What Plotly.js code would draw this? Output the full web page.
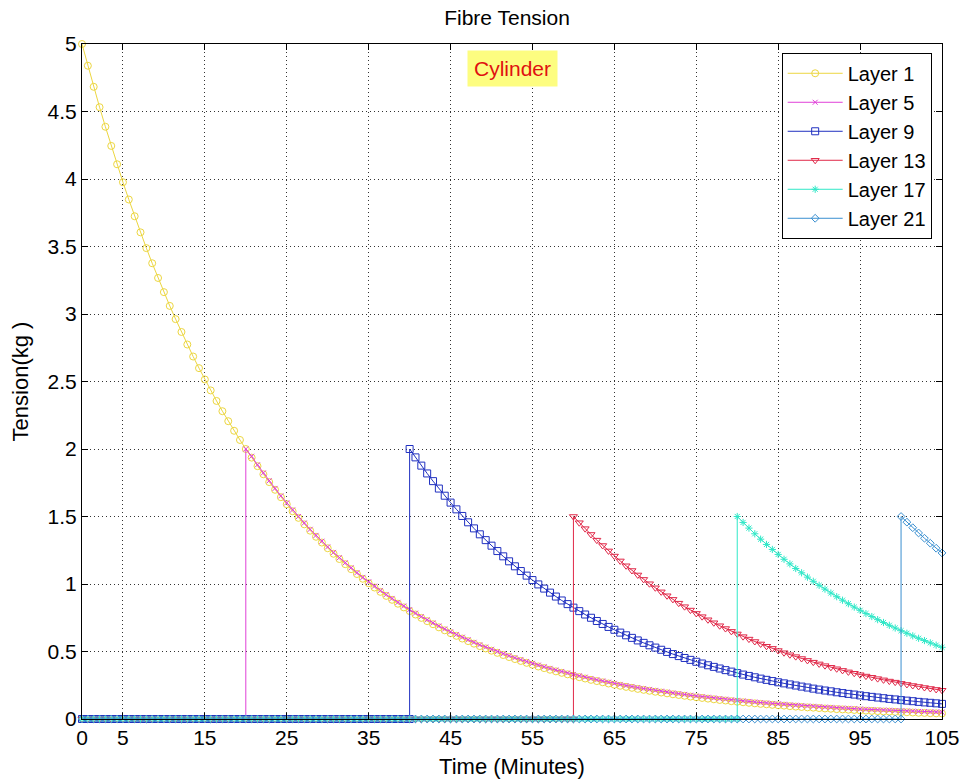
<!DOCTYPE html>
<html>
<head>
<meta charset="utf-8">
<script src="https://cdn.plot.ly/plotly-3.0.1.min.js"></script>
<style>html,body{margin:0;padding:0;background:#fff;}#chart{width:963px;height:784px;}</style>
</head>
<body>
<div id="chart"></div>
<script>
// Time grid (minutes)
const time = [
0,0.714,1.429,2.143,2.857,3.571,4.286,
5,5.714,6.429,7.143,7.857,8.571,9.286,
10,10.714,11.429,12.143,12.857,13.571,14.286,
15,15.714,16.429,17.143,17.857,18.571,19.286,
20,20.714,21.429,22.143,22.857,23.571,24.286,
25,25.714,26.429,27.143,27.857,28.571,29.286,
30,30.714,31.429,32.143,32.857,33.571,34.286,
35,35.714,36.429,37.143,37.857,38.571,39.286,
40,40.714,41.429,42.143,42.857,43.571,44.286,
45,45.714,46.429,47.143,47.857,48.571,49.286,
50,50.714,51.429,52.143,52.857,53.571,54.286,
55,55.714,56.429,57.143,57.857,58.571,59.286,
60,60.714,61.429,62.143,62.857,63.571,64.286,
65,65.714,66.429,67.143,67.857,68.571,69.286,
70,70.714,71.429,72.143,72.857,73.571,74.286,
75,75.714,76.429,77.143,77.857,78.571,79.286,
80,80.714,81.429,82.143,82.857,83.571,84.286,
85,85.714,86.429,87.143,87.857,88.571,89.286,
90,90.714,91.429,92.143,92.857,93.571,94.286,
95,95.714,96.429,97.143,97.857,98.571,99.286,
100,100.714,101.429,102.143,102.857,103.571,104.286,
105];

// Layer 1 tension (kg)
const layer1 = [
5,4.839,4.683,4.532,4.387,4.245,4.109,
3.976,3.848,3.724,3.605,3.488,3.376,3.267,
3.162,3.060,2.962,2.867,2.774,2.685,2.599,
2.515,2.434,2.356,2.280,2.206,2.135,2.067,
2,1.936,1.873,1.813,1.755,1.698,1.643,
1.591,1.539,1.490,1.442,1.395,1.350,1.307,
1.265,1.224,1.185,1.147,1.110,1.074,1.039,
1.006,0.974,0.942,0.912,0.883,0.854,0.827,
0.8,0.774,0.749,0.725,0.702,0.679,0.657,
0.636,0.616,0.596,0.577,0.558,0.540,0.523,
0.506,0.490,0.474,0.459,0.444,0.430,0.416,
0.402,0.389,0.377,0.365,0.353,0.342,0.331,
0.32,0.310,0.300,0.290,0.281,0.272,0.263,
0.254,0.246,0.238,0.231,0.223,0.216,0.209,
0.202,0.196,0.190,0.183,0.178,0.172,0.166,
0.161,0.156,0.151,0.146,0.141,0.137,0.132,
0.128,0.124,0.120,0.116,0.112,0.109,0.105,
0.102,0.099,0.095,0.092,0.089,0.086,0.084,
0.081,0.078,0.076,0.073,0.071,0.069,0.067,
0.064,0.062,0.060,0.058,0.056,0.055,0.053,
0.051,0.050,0.048,0.046,0.045,0.043,0.042,
0.041];

// Layer 5: before wound (0..20 min) and after
const layer5Before = [
0,0,0,0,0,0,0, 0,0,0,0,0,0,0, 0,0,0,0,0,0,0, 0,0,0,0,0,0,0,
0];
const layer5After = [
2,1.946,1.883,1.823,1.765,1.708,1.653,
1.601,1.549,1.500,1.452,1.405,1.360,1.317,
1.275,1.234,1.195,1.157,1.120,1.084,1.049,
1.016,0.984,0.952,0.922,0.893,0.864,0.837,
0.81,0.784,0.759,0.735,0.712,0.689,0.667,
0.646,0.626,0.606,0.587,0.568,0.550,0.533,
0.516,0.500,0.484,0.469,0.454,0.440,0.426,
0.412,0.399,0.387,0.375,0.363,0.352,0.341,
0.33,0.320,0.310,0.300,0.291,0.282,0.273,
0.264,0.256,0.248,0.241,0.233,0.226,0.219,
0.212,0.206,0.200,0.193,0.188,0.182,0.176,
0.171,0.166,0.161,0.156,0.151,0.147,0.142,
0.138,0.134,0.130,0.126,0.122,0.119,0.115,
0.112,0.109,0.105,0.102,0.099,0.096,0.094,
0.091,0.088,0.086,0.083,0.081,0.079,0.077,
0.074,0.072,0.070,0.068,0.066,0.065,0.063,
0.061,0.060,0.058,0.056,0.055,0.053,0.052,
0.051];

// Layer 9
const layer9Before = [
0,0,0,0,0,0,0, 0,0,0,0,0,0,0, 0,0,0,0,0,0,0, 0,0,0,0,0,0,0,
0,0,0,0,0,0,0, 0,0,0,0,0,0,0, 0,0,0,0,0,0,0, 0,0,0,0,0,0,0,
0];
const layer9After = [
2,1.938,1.877,1.819,1.762,1.707,1.654,
1.603,1.553,1.504,1.457,1.412,1.368,1.325,
1.284,1.244,1.205,1.168,1.131,1.096,1.062,
1.029,0.997,0.966,0.936,0.907,0.878,0.851,
0.825,0.799,0.774,0.750,0.726,0.704,0.682,
0.661,0.640,0.620,0.601,0.582,0.564,0.546,
0.529,0.513,0.497,0.481,0.466,0.452,0.438,
0.424,0.411,0.398,0.386,0.374,0.362,0.351,
0.340,0.329,0.319,0.309,0.299,0.290,0.281,
0.272,0.264,0.256,0.248,0.240,0.233,0.225,
0.218,0.211,0.205,0.198,0.192,0.186,0.181,
0.175,0.169,0.164,0.159,0.154,0.149,0.145,
0.140,0.136,0.132,0.127,0.123,0.120,0.116,
0.112];

// Layer 13
const layer13Before = [
0,0,0,0,0,0,0, 0,0,0,0,0,0,0, 0,0,0,0,0,0,0, 0,0,0,0,0,0,0,
0,0,0,0,0,0,0, 0,0,0,0,0,0,0, 0,0,0,0,0,0,0, 0,0,0,0,0,0,0,
0,0,0,0,0,0,0, 0,0,0,0,0,0,0, 0,0,0,0,0,0,0, 0,0,0,0,0,0,0,
0];
const layer13After = [
1.5,1.454,1.410,1.367,1.325,1.285,1.245,
1.207,1.171,1.135,1.100,1.067,1.034,1.002,
0.972,0.942,0.913,0.886,0.858,0.832,0.807,
0.782,0.758,0.735,0.713,0.691,0.670,0.649,
0.630,0.610,0.592,0.574,0.556,0.539,0.523,
0.507,0.491,0.476,0.462,0.448,0.434,0.421,
0.408,0.395,0.383,0.372,0.360,0.349,0.339,
0.328,0.318,0.309,0.299,0.290,0.281,0.273,
0.264,0.256,0.248,0.241,0.233,0.226,0.219,
0.213];

// Layer 17
const layer17Before = [
0,0,0,0,0,0,0, 0,0,0,0,0,0,0, 0,0,0,0,0,0,0, 0,0,0,0,0,0,0,
0,0,0,0,0,0,0, 0,0,0,0,0,0,0, 0,0,0,0,0,0,0, 0,0,0,0,0,0,0,
0,0,0,0,0,0,0, 0,0,0,0,0,0,0, 0,0,0,0,0,0,0, 0,0,0,0,0,0,0,
0,0,0,0,0,0,0, 0,0,0,0,0,0,0, 0,0,0,0,0,0,0, 0,0,0,0,0,0,0,
0];
const layer17After = [
1.5,1.456,1.414,1.372,1.332,1.293,1.256,
1.219,1.183,1.149,1.115,1.083,1.051,1.020,
0.990,0.962,0.933,0.906,0.880,0.854,0.829,
0.805,0.781,0.759,0.736,0.715,0.694,0.674,
0.654,0.635,0.616,0.598,0.581,0.564,0.547,
0.531];

// Layer 21
const layer21Before = [
0,0,0,0,0,0,0, 0,0,0,0,0,0,0, 0,0,0,0,0,0,0, 0,0,0,0,0,0,0,
0,0,0,0,0,0,0, 0,0,0,0,0,0,0, 0,0,0,0,0,0,0, 0,0,0,0,0,0,0,
0,0,0,0,0,0,0, 0,0,0,0,0,0,0, 0,0,0,0,0,0,0, 0,0,0,0,0,0,0,
0,0,0,0,0,0,0, 0,0,0,0,0,0,0, 0,0,0,0,0,0,0, 0,0,0,0,0,0,0,
0,0,0,0,0,0,0, 0,0,0,0,0,0,0, 0,0,0,0,0,0,0, 0,0,0,0,0,0,0,
0];
const layer21After = [1.5,1.458,1.417,1.378,1.339,1.302,1.265,1.230];

const layerNames = ['Layer 1','Layer 5','Layer 9','Layer 13','Layer 17','Layer 21'];
const xTicks = [0,5,15,25,35,45,55,65,75,85,95,105];
const yTicks = [0,0.5,1,1.5,2,2.5,3,3.5,4,4.5,5];

function joinX(before) {
  return time.slice(0, before.length).concat(time.slice(before.length - 1));
}

const styles = [
  {color:'#ecd640', symbol:'circle-open', size:7},
  {color:'#e040d8', symbol:'x-thin-open', size:5},
  {color:'#2030c0', symbol:'square-open', size:7},
  {color:'#e02848', symbol:'triangle-down-open', size:7},
  {color:'#30e8c8', symbol:'asterisk-open', size:6},
  {color:'#3a8fd0', symbol:'diamond-open', size:6}
];

const series = [
  {x: time, y: layer1},
  {x: joinX(layer5Before), y: layer5Before.concat(layer5After)},
  {x: joinX(layer9Before), y: layer9Before.concat(layer9After)},
  {x: joinX(layer13Before), y: layer13Before.concat(layer13After)},
  {x: joinX(layer17Before), y: layer17Before.concat(layer17After)},
  {x: joinX(layer21Before), y: layer21Before.concat(layer21After)}
];

const traces = series.map((s, i) => ({
  type: 'scatter', mode: 'lines+markers', name: layerNames[i],
  x: s.x, y: s.y, cliponaxis: false,
  line: {color: styles[i].color, width: 1},
  marker: {symbol: styles[i].symbol, size: styles[i].size, color: styles[i].color, line: {width: 1, color: styles[i].color}}
}));

const font = 'Arial, "Liberation Sans", sans-serif';
const axisCommon = {
  showline: true, linecolor: '#000', linewidth: 1, mirror: 'ticks',
  ticks: 'inside', ticklen: 6, tickcolor: '#000', tickwidth: 1,
  showgrid: true, gridcolor: '#333', gridwidth: 1, griddash: '1px,3px',
  zeroline: false, tickfont: {family: font, size: 21, color: '#000'}
};

const layout = {
  width: 963, height: 784,
  margin: {l: 82, r: 21, t: 44, b: 65},
  paper_bgcolor: '#fff', plot_bgcolor: '#fff',
  font: {family: font, color: '#000'},
  title: {text: 'Fibre Tension', font: {family: font, size: 21, color: '#000'}, x: 0.5265, xanchor: 'center', y: 0.978, yanchor: 'middle', yref: 'container'},
  xaxis: Object.assign({}, axisCommon, {range: [0, 105], tickvals: xTicks, ticktext: xTicks.map(String),
    title: {text: 'Time (Minutes)', font: {family: font, size: 22, color: '#000'}, standoff: 10}}),
  yaxis: Object.assign({}, axisCommon, {range: [0, 5], tickvals: yTicks, ticktext: yTicks.map(String),
    title: {text: 'Tension(kg )', font: {family: font, size: 22, color: '#000'}, standoff: 12}}),
  showlegend: true,
  legend: {x: 0.988, xanchor: 'right', y: 0.987, yanchor: 'top', bgcolor: '#fff', bordercolor: '#000', borderwidth: 1,
    font: {family: font, size: 20, color: '#000'}, tracegroupgap: 0, itemwidth: 55},
  annotations: [{x: 52.5, y: 4.82, xref: 'x', yref: 'y', text: 'Cylinder', showarrow: false,
    font: {family: font, size: 21, color: '#e01010'}, bgcolor: '#fdfd80', borderpad: 6}]
};

Plotly.newPlot('chart', traces, layout, {displayModeBar: false, staticPlot: true});
</script>
</body>
</html>
